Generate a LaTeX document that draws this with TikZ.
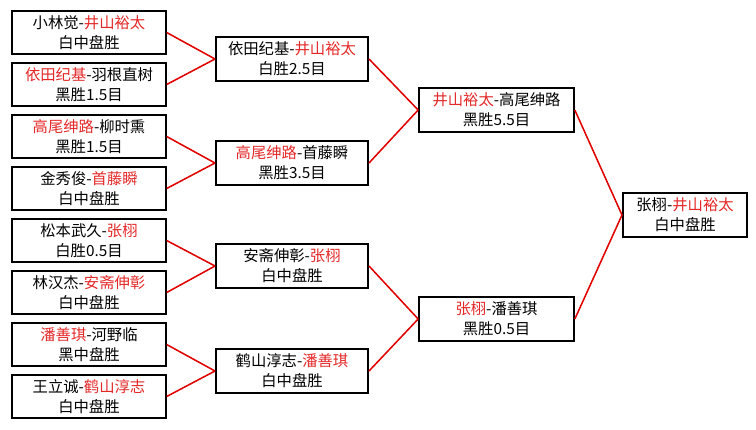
\documentclass[tikz,border=0pt]{standalone}
\usepackage{xcolor}
\usepackage{fontspec}
\setmainfont{Noto Sans CJK SC}
\usetikzlibrary{positioning}
\definecolor{winred}{RGB}{228,40,40}
\definecolor{linkred}{RGB}{225,0,0}
\newcommand{\win}[1]{\textcolor{winred}{#1}}

\begin{document}
\begin{tikzpicture}[x=0.75pt, y=-0.75pt, node distance=5pt,
  match/.style={draw, rectangle, line width=1.5pt, minimum width=115pt, minimum height=32.5pt, inner sep=0pt, align=center, font=\fontsize{11.5}{15}\selectfont},
  link/.style={draw=linkred, line width=1.15pt}]
  \useasboundingbox (0,0) rectangle (756,429);

  % Round 1
  \node (r1a) [match] at (89,32.5) {小林觉-\win{井山裕太}\\白中盘胜};
  \node (r1b) [match, below=of r1a] {\win{依田纪基}-羽根直树\\黑胜1.5目};
  \node (r1c) [match, below=of r1b] {\win{高尾绅路}-柳时熏\\黑胜1.5目};
  \node (r1d) [match, below=of r1c] {金秀俊-\win{首藤瞬}\\白中盘胜};
  \node (r1e) [match, below=of r1d] {松本武久-\win{张栩}\\白胜0.5目};
  \node (r1f) [match, below=of r1e] {林汉杰-\win{安斋伸彰}\\白中盘胜};
  \node (r1g) [match, below=of r1f] {\win{潘善琪}-河野临\\黑中盘胜};
  \node (r1h) [match, below=of r1g] {王立诚-\win{鹤山淳志}\\白中盘胜};

  % Round 2
  \node (r2a) [match, minimum width=114pt] at (292,59) {依田纪基-\win{井山裕太}\\白胜2.5目};
  \node (r2b) [match, minimum width=114pt] at (292,163) {\win{高尾绅路}-首藤瞬\\黑胜3.5目};
  \node (r2c) [match, minimum width=114pt] at (292,266) {安斋伸彰-\win{张栩}\\白中盘胜};
  \node (r2d) [match, minimum width=114pt] at (292,371) {鹤山淳志-\win{潘善琪}\\白中盘胜};

  % Semi-finals and final
  \node (r3a) [match, minimum width=116pt] at (496.5,110) {\win{井山裕太}-高尾绅路\\黑胜5.5目};
  \node (r3b) [match, minimum width=116pt] at (496.5,319) {\win{张栩}-潘善琪\\黑胜0.5目};
  \node (final) [match, minimum width=93pt] at (685,215) {张栩-\win{井山裕太}\\白中盘胜};

  % Links
  \draw[link] (r1a.east) -- (r2a.west);
  \draw[link] (r1b.east) -- (r2a.west);
  \draw[link] (r1c.east) -- (r2b.west);
  \draw[link] (r1d.east) -- (r2b.west);
  \draw[link] (r1e.east) -- (r2c.west);
  \draw[link] (r1f.east) -- (r2c.west);
  \draw[link] (r1g.east) -- (r2d.west);
  \draw[link] (r1h.east) -- (r2d.west);
  \draw[link] (r2a.east) -- (r3a.west);
  \draw[link] (r2b.east) -- (r3a.west);
  \draw[link] (r2c.east) -- (r3b.west);
  \draw[link] (r2d.east) -- (r3b.west);
  \draw[link] (r3a.east) -- (final.west);
  \draw[link] (r3b.east) -- (final.west);
\end{tikzpicture}
\end{document}
